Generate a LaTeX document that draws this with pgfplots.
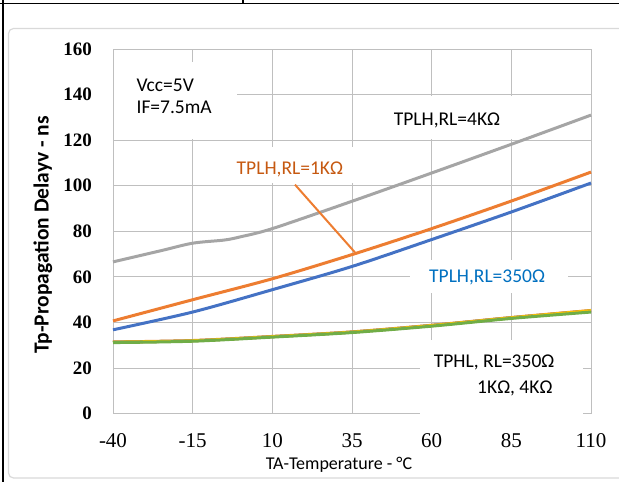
\documentclass[border=0pt]{standalone}
\usepackage{pgfplots}
\pgfplotsset{compat=1.18}
\usepackage{fontspec}
\setmainfont{Carlito}
\newfontfamily\tickfont{Liberation Serif}
\definecolor{gridc}{HTML}{BFBFBF}
\definecolor{framec}{HTML}{D9D9D9}
\definecolor{greyc}{HTML}{A5A5A5}
\definecolor{orangec}{HTML}{ED7D31}
\definecolor{bluec}{HTML}{4472C4}
\definecolor{greenc}{HTML}{70AD47}
\definecolor{yellowc}{HTML}{FFC000}
\definecolor{orangetxt}{HTML}{C65911}
\definecolor{bluetxt}{HTML}{0070C0}
\begin{document}
\begin{tikzpicture}
\useasboundingbox (0bp,0bp) rectangle (619bp,482bp);
\draw[draw=framec, line width=1.2bp, rounded corners=5bp] (8.5bp,4bp) rectangle (640bp,453.5bp);
\draw[black, line width=1.8bp] (0bp,478.5bp) -- (619bp,478.5bp);
\draw[black, line width=1.8bp] (3bp,0bp) -- (3bp,482bp);
\draw[black, line width=1.6bp] (243bp,478.5bp) -- (243bp,482bp);
\begin{axis}[
  at={(113bp,68.3bp)}, anchor=south west, scale only axis,
  width=478bp, height=364.7bp,
  xmin=-40, xmax=110, ymin=0, ymax=160,
  xtick={-40,-15,10,35,60,85,110}, ytick={0,20,...,160},
  grid=major, major grid style={draw=gridc, line width=0.9bp},
  axis line style={draw=gridc, line width=0.9bp},
  tick style={draw=none},
  clip=false,
  /pgf/number format/assume math mode=true,
  yticklabel style={font=\tickfont\bfseries\fontsize{19bp}{22bp}\selectfont, inner sep=0pt, anchor=east, xshift=-21bp},
  xticklabel style={font=\tickfont\fontsize{21bp}{24bp}\selectfont, inner sep=0pt, anchor=north, yshift=-20bp},
]
% white text boxes covering gridlines
\fill[white] (axis cs:-39.6,120.4) rectangle (axis cs:-1.1,154.2);
\fill[white] (axis cs:43.8,120.5) rectangle (axis cs:86.3,139.5);
\fill[white] (axis cs:53.2,53) rectangle (axis cs:102.8,67.5);
\fill[white] (axis cs:-1.7,101.3) rectangle (axis cs:35.5,116.8);
\fill[white] (axis cs:56.3,-2.8) rectangle (axis cs:107.5,32.4);

\addplot[smooth, line width=3bp, color=greyc] coordinates {
(-40,66.6) (-25,71.5) (-15,74.8) (-5,76.2) (0,77.6) (10,81.2) (35,93.2) (60,105.6) (85,118.2) (110,131)};
\addplot[smooth, line width=3bp, color=orangec] coordinates {
(-40,40.7) (-15,50) (10,59.2) (35,69.8) (60,81.2) (85,93.3) (110,106)};
\addplot[smooth, line width=3bp, color=bluec] coordinates {
(-40,36.8) (-15,44.6) (10,54.4) (35,64.6) (60,76.4) (85,88.5) (110,101.2)};
\addplot[smooth, line width=3bp, color=orangec] coordinates {
(-40,31.5) (-15,32.1) (10,33.9) (35,35.9) (60,38.8) (85,42.2) (110,45.3)};
\addplot[smooth, line width=3bp, color=bluec] coordinates {
(-40,31.4) (-15,32) (10,33.8) (35,35.8) (60,38.7) (85,42.1) (110,45.1)};
\addplot[smooth, line width=3bp, color=yellowc] coordinates {
(-40,31.4) (-15,32) (10,33.8) (35,35.8) (60,38.7) (85,42.1) (110,45.2)};
\addplot[smooth, line width=3bp, color=greenc] coordinates {
(-40,31.2) (-15,31.8) (10,33.6) (35,35.6) (60,38.4) (85,41.8) (110,44.6)};

\draw[orangec, line width=2bp] (axis cs:17.1,100.5) -- (axis cs:35.9,70.8);

\node[anchor=base west, font=\fontsize{19.5bp}{22bp}\selectfont] at (axis cs:-33.7,141.4) {Vcc=5V};
\node[anchor=base west, font=\fontsize{19.5bp}{22bp}\selectfont] at (axis cs:-33.7,131.7) {IF=7.5mA};
\node[font=\fontsize{19.5bp}{22bp}\selectfont] at (axis cs:64.8,128.6) {TPLH,RL=4KΩ};
\node[font=\fontsize{19.5bp}{22bp}\selectfont, text=orangetxt] at (axis cs:15.5,107) {TPLH,RL=1KΩ};
\node[font=\fontsize{19.5bp}{22bp}\selectfont, text=bluetxt] at (axis cs:77.4,59.6) {TPLH,RL=350Ω};
\node[anchor=east, font=\fontsize{19.5bp}{22bp}\selectfont] at (axis cs:99.6,22.3) {TPHL, RL=350Ω};
\node[anchor=east, font=\fontsize{19.5bp}{22bp}\selectfont] at (axis cs:99.0,11.3) {1KΩ, 4KΩ};
\end{axis}
\node[rotate=90, font=\bfseries\fontsize{21.5bp}{24bp}\selectfont] at (43bp,247bp) {Tp-Propagation Delayv - ns};
\node[font=\fontsize{18bp}{21bp}\selectfont] at (339bp,17bp) {TA-Temperature - °C};
\end{tikzpicture}
\end{document}
